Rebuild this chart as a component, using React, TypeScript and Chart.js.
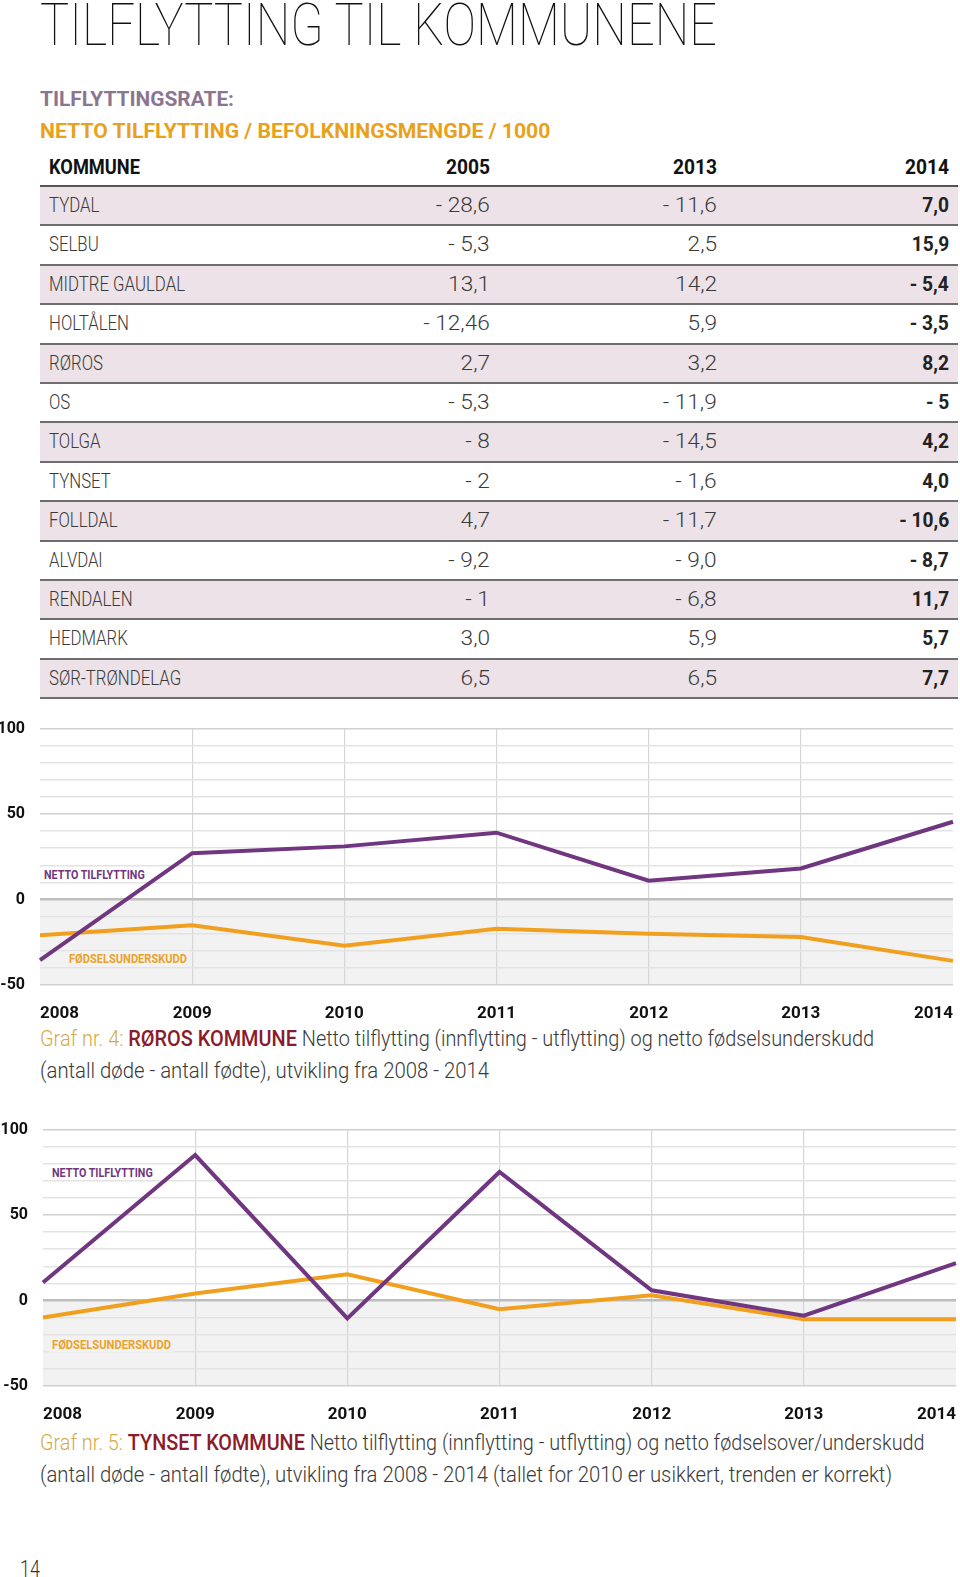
import React, { useEffect, useRef } from "react";
import { Chart, registerables } from "chart.js";
Chart.register(...registerables);

// ---------- DATA ----------
const years = ["2008", "2009", "2010", "2011", "2012", "2013", "2014"];
const rorosNetto = [-35.5, 27.1, 31.1, 39.1, 11.0, 18.2, 45.5];
const rorosFodsel = [-20.9, -15.1, -27.1, -17.1, -20.0, -21.9, -35.9];
const tynsetNetto = [10.5, 85.1, -10.5, 75.2, 6.0, -8.9, 21.9];
const tynsetFodsel = [-9.9, 4.1, 15.3, -5.1, 3.1, -10.9, -10.9];
const yMajorTicks = [100, 50, 0, -50];

const tableHeader = ["KOMMUNE", "2005", "2013", "2014"];
const kommuner = ["TYDAL", "SELBU", "MIDTRE GAULDAL", "HOLTÅLEN", "RØROS", "OS", "TOLGA", "TYNSET", "FOLLDAL", "ALVDAl", "RENDALEN", "HEDMARK", "SØR-TRØNDELAG"];
const rate2005 = ["- 28,6", "- 5,3", "13,1", "- 12,46", "2,7", "- 5,3", "- 8", "- 2", "4,7", "- 9,2", "- 1", "3,0", "6,5"];
const rate2013 = ["- 11,6", "2,5", "14,2", "5,9", "3,2", "- 11,9", "- 14,5", "- 1,6", "- 11,7", "- 9,0", "- 6,8", "5,9", "6,5"];
const rate2014 = ["7,0", "15,9", "- 5,4", "- 3,5", "8,2", "- 5", "4,2", "4,0", "- 10,6", "- 8,7", "11,7", "5,7", "7,7"];

const PURPLE = "#703780";
const ORANGE = "#f0a01e";
const FAM = "Roboto";

// ---------- text measuring (layout only) ----------
const mctx = document.createElement("canvas").getContext("2d")!;
function tw(text: string, weight: number, size: number, family = FAM) {
  mctx.font = `${weight} ${size}px ${family}`;
  return mctx.measureText(text).width;
}

type Seg = { text: string; color: string; weight: number };
function FitLine(props: { segs: Seg[]; size: number; width: number; left: number; top: number; lh: number; family?: string }) {
  const fam = props.family || FAM;
  const total = props.segs.reduce((a, s) => a + tw(s.text, s.weight, props.size, fam), 0);
  const sc = props.width / total;
  return (
    <div style={{ position: "absolute", left: props.left, top: props.top, whiteSpace: "pre", fontFamily: fam, fontSize: props.size, lineHeight: `${props.lh}px`, transform: `scaleX(${sc})`, transformOrigin: "left top" }}>
      {props.segs.map((s, i) => (
        <span key={i} style={{ color: s.color, fontWeight: s.weight }}>{s.text}</span>
      ))}
    </div>
  );
}

const TBL_SIZE = 20;
const regScale = 136 / tw("MIDTRE GAULDAL", 300, TBL_SIZE);
const numScale = 54 / tw("- 28,6", 300, TBL_SIZE);
const boldScale = 91 / tw("KOMMUNE", 700, TBL_SIZE);
const boldNumScale = 50 / tw("- 10,6", 700, TBL_SIZE);
const headNumScale = 44 / tw("2005", 700, TBL_SIZE);

function Cell(props: { text: string; weight: number; color: string; left?: number; right?: number; scale: number }) {
  const st: any = {
    position: "absolute",
    whiteSpace: "pre",
    fontWeight: props.weight,
    color: props.color,
    transform: `scaleX(${props.scale})`,
  };
  if (props.left !== undefined) { st.left = props.left; st.transformOrigin = "left center"; }
  else { st.right = props.right; st.transformOrigin = "right center"; }
  return <span style={st}>{props.text}</span>;
}

const negBg = {
  id: "negBg",
  beforeDraw(chart: any) {
    const { ctx, chartArea, scales } = chart;
    const y = scales.y;
    const y0 = y.getPixelForValue(0);
    const y1 = y.getPixelForValue(-50);
    ctx.save();
    ctx.fillStyle = "#f2f2f2";
    ctx.fillRect(chartArea.left, y0, chartArea.right - chartArea.left, y1 - y0);
    ctx.restore();
  },
};

const X_AXIS_H = 37;
const X_TICK_PAD = 19;
const CANVAS_H = 281 + X_AXIS_H;

function LineChart(props: { netto: number[]; fodsel: number[]; axisWidth: number; width: number }) {
  const ref = useRef<HTMLCanvasElement>(null);
  useEffect(() => {
    const chart = new Chart(ref.current!, {
      type: "line",
      data: {
        labels: years,
        datasets: [
          { data: props.netto, borderColor: PURPLE, borderWidth: 4, pointRadius: 0, tension: 0, fill: false },
          { data: props.fodsel, borderColor: ORANGE, borderWidth: 4, pointRadius: 0, tension: 0, fill: false },
        ],
      },
      plugins: [negBg],
      options: {
        animation: false,
        responsive: false,
        maintainAspectRatio: false,
        layout: { padding: 0 },
        plugins: { legend: { display: false }, tooltip: { enabled: false } },
        scales: {
          x: {
            offset: false,
            border: { display: false },
            grid: {
              drawTicks: false,
              lineWidth: 1.2,
              color: (c: any) => (c.index === 0 || c.index === years.length - 1 ? "rgba(0,0,0,0)" : "#d6d6d6"),
            },
            ticks: {
              align: "inner",
              maxRotation: 0,
              autoSkip: false,
              padding: X_TICK_PAD,
              color: "#111",
              font: { family: FAM, weight: "bold", size: 17 },
            },
            afterFit: (s: any) => { s.height = X_AXIS_H; },
          },
          y: {
            min: -50,
            max: 100,
            border: { display: false },
            grid: {
              drawTicks: false,
              color: (c: any) => {
                const v = c.tick.value;
                if (v === 0) return "#bdbdbd";
                if (yMajorTicks.includes(v)) return "#d0d0d0";
                return "#e3e3e3";
              },
              lineWidth: (c: any) => (c.tick.value === 0 ? 2.5 : 1.6),
            },
            ticks: {
              stepSize: 10,
              autoSkip: false,
              padding: 15,
              color: "#111",
              font: { family: FAM, weight: "bold", size: 16 },
              callback: (v: any) => (yMajorTicks.includes(Number(v)) ? String(v) : ""),
            },
            afterFit: (s: any) => { s.width = props.axisWidth; },
          },
        },
      } as any,
    });
    return () => chart.destroy();
  }, []);
  return <canvas ref={ref} width={props.width} height={CANVAS_H} style={{ display: "block", width: props.width, height: CANVAS_H }} />;
}

function SeriesLabel(props: { text: string; color: string; bg: string; left: number; top: number; width: number }) {
  const sc = props.width / tw(props.text, 700, 13);
  return (
    <div style={{ position: "absolute", left: props.left - 3, top: props.top, width: props.width + 6, height: 15, background: props.bg }}>
      <div style={{ position: "absolute", left: 3, top: 0, fontFamily: FAM, fontWeight: 700, fontSize: 13, lineHeight: "15px", color: props.color, whiteSpace: "pre", transform: `scaleX(${sc})`, transformOrigin: "left top" }}>
        {props.text}
      </div>
    </div>
  );
}

export default function App() {
  const rowTop = 186;
  const rowH = 39.4;
  const TW = 918; // table width
  const GRAY = "#3a3a3a";
  const c1Top = 704;
  const c2Top = 1105;
  const c1W = 953 + X_TICK_PAD;
  const c2W = 956 + X_TICK_PAD;
  return (
    <div style={{ position: "absolute", left: 0, top: 0, width: 960, height: 1577, background: "#fff", overflow: "hidden", fontFamily: FAM }}>
      {/* Title */}
      <FitLine segs={[{ text: "TILFLYTTING TIL KOMMUNENE", color: "#111", weight: 100 }]} size={60} width={678} left={40} top={-8} lh={66} />
      <FitLine segs={[{ text: "TILFLYTTINGSRATE:", color: "#8c7590", weight: 700 }]} size={21} width={194} left={40} top={86} lh={26} />
      <FitLine segs={[{ text: "NETTO TILFLYTTING / BEFOLKNINGSMENGDE / 1000", color: "#e9a11c", weight: 700 }]} size={21} width={511} left={40} top={118} lh={26} />

      {/* Table header */}
      <div style={{ position: "absolute", left: 40, top: 154, width: TW, height: 26, fontSize: TBL_SIZE, lineHeight: "26px" }}>
        <Cell text={tableHeader[0]} weight={700} color="#111" left={9} scale={boldScale} />
        <Cell text={tableHeader[1]} weight={700} color="#111" right={958 - 490} scale={headNumScale} />
        <Cell text={tableHeader[2]} weight={700} color="#111" right={958 - 717} scale={headNumScale} />
        <Cell text={tableHeader[3]} weight={700} color="#111" right={9} scale={headNumScale} />
      </div>
      <div style={{ position: "absolute", left: 40, top: rowTop - 1, width: TW, height: 2, background: "#555" }} />
      {kommuner.map((k, i) => (
        <div key={k} style={{ position: "absolute", left: 40, top: rowTop + 1 + i * rowH, width: TW, height: rowH - 2, background: i % 2 === 0 ? "#ece2e8" : "#fff", fontSize: TBL_SIZE, lineHeight: `${rowH - 2}px` }}>
          <Cell text={k} weight={300} color={GRAY} left={9} scale={regScale} />
          <Cell text={rate2005[i]} weight={300} color={GRAY} right={958 - 490} scale={numScale} />
          <Cell text={rate2013[i]} weight={300} color={GRAY} right={958 - 717} scale={numScale} />
          <Cell text={rate2014[i]} weight={700} color="#222" right={9} scale={boldNumScale} />
          <div style={{ position: "absolute", left: 0, bottom: -2, width: TW, height: 2, background: "#6e6e6e" }} />
        </div>
      ))}

      {/* Chart 1 */}
      <div style={{ position: "absolute", left: 0, top: c1Top, width: c1W, height: CANVAS_H }}>
        <LineChart netto={rorosNetto} fodsel={rorosFodsel} axisWidth={40} width={c1W} />
        <SeriesLabel text="NETTO TILFLYTTING" color={PURPLE} bg="#fff" left={44} top={867 - c1Top} width={101} />
        <SeriesLabel text="FØDSELSUNDERSKUDD" color="#eba22a" bg="#f2f2f2" left={69} top={951 - c1Top} width={118} />
      </div>
      <FitLine segs={[
        { text: "Graf nr. 4: ", color: "#d6a94a", weight: 300 },
        { text: "RØROS KOMMUNE", color: "#8a1b2a", weight: 500 },
        { text: " Netto tilflytting (innflytting - utflytting) og netto fødselsunderskudd", color: GRAY, weight: 300 },
      ]} size={22} width={834} left={40} top={1023} lh={32} />
      <FitLine segs={[{ text: "(antall døde - antall fødte), utvikling fra 2008 - 2014", color: GRAY, weight: 300 }]} size={22} width={449} left={40} top={1055} lh={32} />

      {/* Chart 2 */}
      <div style={{ position: "absolute", left: 0, top: c2Top, width: c2W, height: CANVAS_H }}>
        <LineChart netto={tynsetNetto} fodsel={tynsetFodsel} axisWidth={43} width={c2W} />
        <SeriesLabel text="NETTO TILFLYTTING" color={PURPLE} bg="#fff" left={52} top={1165 - c2Top} width={101} />
        <SeriesLabel text="FØDSELSUNDERSKUDD" color="#eba22a" bg="#f2f2f2" left={52} top={1337 - c2Top} width={119} />
      </div>
      <FitLine segs={[
        { text: "Graf nr. 5: ", color: "#d6a94a", weight: 300 },
        { text: "TYNSET KOMMUNE", color: "#8a1b2a", weight: 500 },
        { text: " Netto tilflytting (innflytting - utflytting) og netto fødselsover/underskudd", color: GRAY, weight: 300 },
      ]} size={22} width={885} left={40} top={1427} lh={32} />
      <FitLine segs={[{ text: "(antall døde - antall fødte), utvikling fra 2008 - 2014 (tallet for 2010 er usikkert, trenden er korrekt)", color: GRAY, weight: 300 }]} size={22} width={852} left={40} top={1459} lh={32} />

      <FitLine segs={[{ text: "14", color: "#333", weight: 300 }]} size={24} width={20} left={20} top={1555} lh={28} />
    </div>
  );
}
